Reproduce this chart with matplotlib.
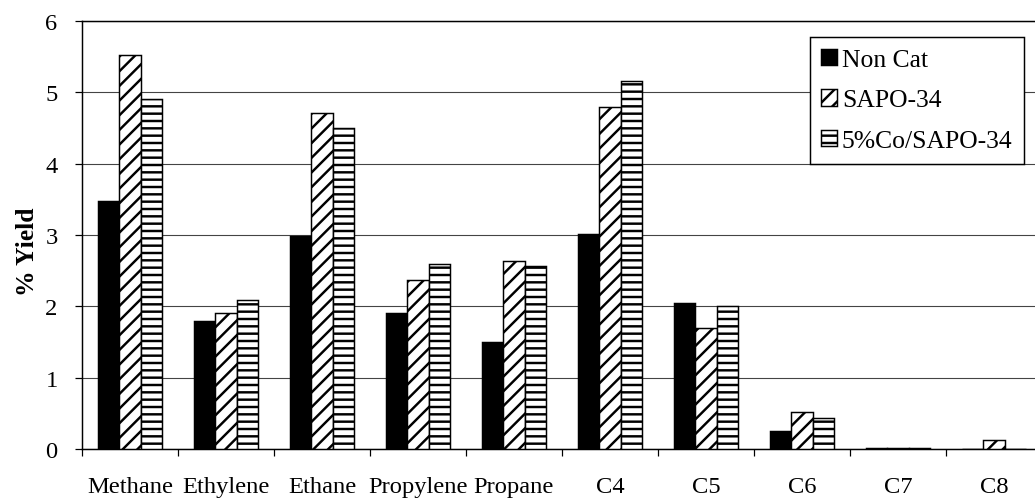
import numpy as np
import matplotlib
matplotlib.use('Agg')
import matplotlib.pyplot as plt

# yields (% yield)
categories = ['Methane', 'Ethylene', 'Ethane', 'Propylene', 'Propane',
              'C4', 'C5', 'C6', 'C7', 'C8']
non_cat = [3.47, 1.80, 2.99, 1.90, 1.50, 3.02, 2.05, 0.25, 0.02, 0.0]
sapo34 = [5.52, 1.90, 4.71, 2.37, 2.64, 4.79, 1.70, 0.52, 0.02, 0.12]
co_sapo34 = [4.90, 2.09, 4.50, 2.60, 2.57, 5.16, 2.00, 0.43, 0.02, 0.0]
series_names = ['Non Cat', 'SAPO-34', '5%Co/SAPO-34']
y_ticks = [0, 1, 2, 3, 4, 5, 6]

DPI = 88
plt.rcParams['font.family'] = ['Liberation Serif', 'DejaVu Serif']
plt.rcParams['hatch.linewidth'] = 2.0
plt.rcParams['hatch.color'] = 'black'

fig = plt.figure(figsize=(1035 / DPI, 502 / DPI), dpi=DPI)
# axes run past the right edge, as the reference is cropped there
ax = fig.add_axes([82 / 1035, 52 / 502, 960 / 1035, 428 / 502])

x = np.arange(len(categories))
w = 0.225
ax.bar(x - w, non_cat, w, color='black', edgecolor='black', linewidth=1.2,
       label=series_names[0], zorder=3)
ax.bar(x, sapo34, w, color='white', edgecolor='black', linewidth=1.2,
       hatch='//', label=series_names[1], zorder=3)
ax.bar(x + w, co_sapo34, w, color='white', edgecolor='black', linewidth=1.2,
       hatch='--', label=series_names[2], zorder=3)

ax.set_xlim(-0.5, len(categories) - 0.5)
ax.set_ylim(0, 6)
ax.set_yticks(y_ticks)
ax.yaxis.grid(True, color='#444444', linewidth=0.9, zorder=0)
ax.set_axisbelow(True)

ax.set_xticks(x)
ax.set_xticklabels(categories)
ax.set_xticks(np.arange(len(categories) + 1) - 0.5, minor=True)
ax.tick_params(axis='x', which='major', length=0, pad=22, labelsize=20)
ax.tick_params(axis='x', which='minor', length=6, width=1, direction='out')
ax.tick_params(axis='y', length=6, width=1, pad=14, labelsize=20)

for s in ['left', 'bottom', 'top']:
    ax.spines[s].set_color('black')
    ax.spines[s].set_linewidth(1.2)
ax.spines['right'].set_visible(False)

ax.set_ylabel('% Yield', fontsize=21, fontweight='bold', va='center')
ax.yaxis.set_label_coords(-0.057, 0.463)

leg = ax.legend(loc='upper right', bbox_to_anchor=(1024 / 1035, 1 - 38 / 502),
                bbox_transform=fig.transFigure, fontsize=21, frameon=True,
                fancybox=False, framealpha=1, edgecolor='black',
                handlelength=0.6, handleheight=0.6, handletextpad=0.2,
                labelspacing=0.72, borderpad=0.45, borderaxespad=0)
leg.get_frame().set_linewidth(1.2)
leg.set_zorder(5)

fig.savefig('out.png', dpi=DPI)
